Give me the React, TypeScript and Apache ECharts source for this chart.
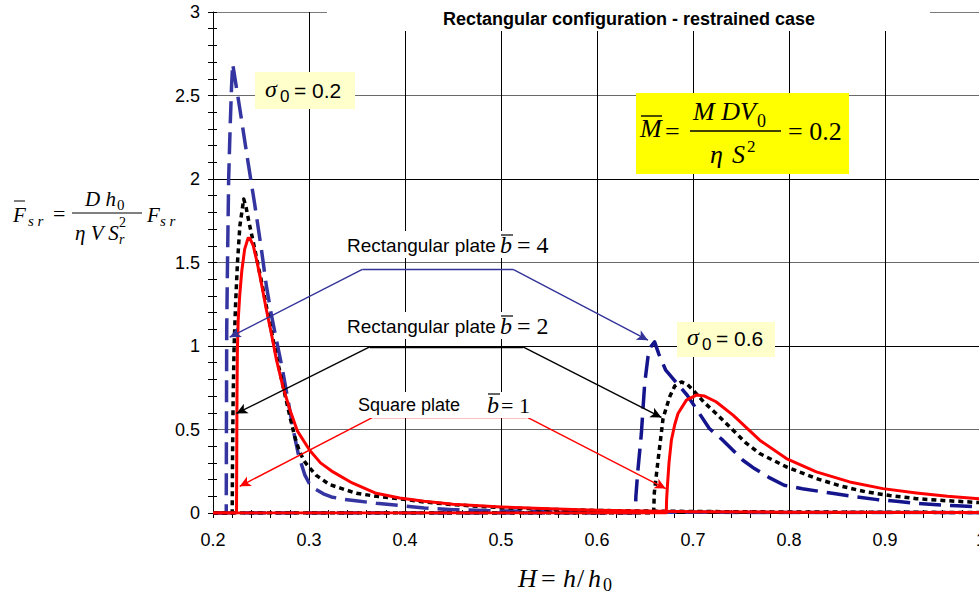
import React, { useEffect, useRef } from 'react';
import * as echarts from 'echarts';

// ---------------- data ----------------
const X_MIN = 0.2;
const X_MAX = 1.0;
const X_STEP = 0.1;
const Y_MIN = 0;
const Y_MAX = 3;
const Y_STEP = 0.5;

const TITLE = 'Rectangular configuration - restrained case';

// sigma0 = 0.2
const s02_b4: [number, number][] = [
  [0.2, 0], [0.2138, 0], [0.214, 0.5], [0.2143, 1.1], [0.215, 1.45], [0.2163, 2.0], [0.2178, 2.3],
  [0.2193, 2.55], [0.2205, 2.69], [0.2285, 2.4], [0.2365, 2.1], [0.2434, 1.85], [0.2504, 1.58],
  [0.2556, 1.36], [0.261, 1.18], [0.267, 1.01], [0.272, 0.87], [0.278, 0.68], [0.2835, 0.5],
  [0.289, 0.35], [0.2955, 0.23], [0.3, 0.18], [0.306, 0.145], [0.315, 0.115], [0.3233, 0.096],
  [0.335, 0.083], [0.351, 0.072], [0.37, 0.058], [0.3944, 0.045], [0.42, 0.03], [0.45, 0.02],
  [0.5, 0.012], [0.6, 0.006], [0.7, 0.004], [0.8, 0.003], [1.0, 0.002],
];
const s02_b2: [number, number][] = [
  [0.2, 0], [0.22, 0], [0.2203, 0.3], [0.221, 0.7], [0.222, 1.0], [0.2235, 1.25], [0.2255, 1.5],
  [0.228, 1.72], [0.232, 1.88], [0.2345, 1.83], [0.2375, 1.74], [0.2417, 1.63], [0.246, 1.51],
  [0.2504, 1.39], [0.2555, 1.24], [0.2608, 1.09], [0.266, 0.94], [0.2729, 0.76], [0.28, 0.58],
  [0.285, 0.46], [0.29, 0.37], [0.295, 0.31], [0.3007, 0.27], [0.3076, 0.225], [0.3215, 0.17],
  [0.332, 0.15], [0.3494, 0.118], [0.37, 0.1], [0.3944, 0.085], [0.42, 0.066], [0.45, 0.05],
  [0.5, 0.032], [0.55, 0.022], [0.6, 0.015], [0.7, 0.009], [0.8, 0.006], [1.0, 0.003],
];
const s02_b1: [number, number][] = [
  [0.2, 0], [0.2245, 0], [0.2247, 0.3], [0.225, 0.7], [0.2254, 0.975], [0.2262, 1.15], [0.2278, 1.3],
  [0.23, 1.45], [0.233, 1.58], [0.2365, 1.645], [0.2385, 1.645], [0.242, 1.6], [0.246, 1.5],
  [0.2504, 1.375], [0.2555, 1.22], [0.2608, 1.075], [0.266, 0.92], [0.2729, 0.755], [0.28, 0.62],
  [0.288, 0.49], [0.3007, 0.376], [0.312, 0.3], [0.325, 0.246], [0.345, 0.18], [0.37, 0.118],
  [0.3944, 0.09], [0.42, 0.07], [0.45, 0.052], [0.5, 0.036], [0.55, 0.025], [0.6, 0.017],
  [0.65, 0.012], [0.7, 0.008], [0.8, 0.005], [1.0, 0.003],
];

// sigma0 = 0.6
const s06_b4: [number, number][] = [
  [0.2, 0], [0.64, 0], [0.6405, 0.1], [0.6425, 0.25], [0.6462, 0.476], [0.6497, 0.776],
  [0.6531, 0.935], [0.6565, 1.0], [0.66, 1.025], [0.6645, 0.95], [0.6716, 0.855], [0.6827, 0.78],
  [0.694, 0.705], [0.705, 0.61], [0.717, 0.506], [0.731, 0.436], [0.752, 0.316], [0.764, 0.266],
  [0.78, 0.21], [0.795, 0.166], [0.814, 0.145], [0.845, 0.118], [0.866, 0.1], [0.892, 0.08],
  [0.912, 0.07], [0.933, 0.058], [0.954, 0.05], [0.975, 0.043], [1.0, 0.036],
];
const s06_b2: [number, number][] = [
  [0.2, 0], [0.659, 0], [0.6597, 0.12], [0.6636, 0.316], [0.6688, 0.566], [0.6757, 0.696],
  [0.681, 0.76], [0.688, 0.785], [0.694, 0.77], [0.7, 0.736], [0.712, 0.66], [0.724, 0.596],
  [0.7417, 0.496], [0.755, 0.42], [0.7695, 0.356], [0.7973, 0.276], [0.8285, 0.206], [0.855, 0.16],
  [0.8806, 0.126], [0.905, 0.105], [0.9327, 0.086], [0.96, 0.075], [1.0, 0.062],
];
const s06_b1: [number, number][] = [
  [0.2, 0], [0.6722, 0], [0.6725, 0.08], [0.6733, 0.156], [0.675, 0.3], [0.6775, 0.436],
  [0.681, 0.53], [0.6844, 0.596], [0.6931, 0.676], [0.7035, 0.706], [0.712, 0.7], [0.724, 0.666],
  [0.7417, 0.586], [0.7695, 0.436], [0.7973, 0.326], [0.8285, 0.246], [0.8632, 0.186],
  [0.8979, 0.146], [0.9327, 0.12], [0.965, 0.1], [1.0, 0.085],
];

// annotation leader lines (data coordinates): [start of flat part, end of flat part, left target, right target]
const lead_b4: [number, number][] = [[0.3556, 1.459], [0.5126, 1.459], [0.2174, 1.053], [0.6531, 1.035]];
const lead_b2: [number, number][] = [[0.3632, 0.995], [0.5229, 0.995], [0.2244, 0.596], [0.6671, 0.572]];
const lead_b1: [number, number][] = [[0.3674, 0.5755], [0.5265, 0.5755], [0.2278, 0.16], [0.6716, 0.146]];

// ---------------- helpers ----------------
const SANS = '"Liberation Sans", Arial, sans-serif';
const SERIF = '"Liberation Serif", "Times New Roman", serif';

function txt(x: number, y: number, text: string, font: string, align: string = 'left', fill: string = '#000') {
  return {
    type: 'text',
    x,
    y,
    z: 110,
    silent: true,
    style: {
      text,
      font,
      fill,
      textAlign: align,
      textVerticalAlign: 'middle',
      align,
      verticalAlign: 'middle',
    },
  };
}
function hl(x1: number, x2: number, y: number, w = 1.2, color = '#000') {
  return { type: 'line', z: 111, silent: true, shape: { x1, y1: y, x2, y2: y }, style: { stroke: color, lineWidth: w } };
}
function box(x: number, y: number, w: number, h: number, fill: string) {
  return { type: 'rect', z: 105, silent: true, shape: { x, y, width: w, height: h }, style: { fill } };
}

function leaderMarkLine(p: [number, number][], color: string) {
  const [a, b, l, r] = p;
  return {
    silent: true,
    animation: false,
    symbolSize: [8, 11],
    label: { show: false },
    emphasis: { disabled: true },
    lineStyle: { color, width: 1.4, type: 'solid' },
    data: [
      [{ coord: a, symbol: 'none' }, { coord: b, symbol: 'none' }],
      [{ coord: a, symbol: 'none' }, { coord: l, symbol: 'arrow' }],
      [{ coord: b, symbol: 'none' }, { coord: r, symbol: 'arrow' }],
    ],
  };
}

const BLUE1 = '#3535a2';
const BLUE2 = '#14148c';
const RED = '#ff0000';
const BLACK = '#000000';

export default function App() {
  const ref = useRef<HTMLDivElement>(null);

  useEffect(() => {
    document.body.style.margin = '0';
    if (!ref.current) return;
    const chart = echarts.init(ref.current, null, { renderer: 'svg' });

    const si = (sz: number) => `italic ${sz}px ${SERIF}`;
    const sr = (sz: number) => `${sz}px ${SERIF}`;
    const ss = (sz: number) => `${sz}px ${SANS}`;

    const graphic: any[] = [
      // title with white background
      box(327, 0, 603, 31, '#ffffff'),
      txt(629, 19, TITLE, `bold 18px ${SANS}`, 'center'),

      // y-axis formula
      txt(13, 215, 'F', si(21)),
      hl(14, 25, 201, 1),
      txt(28, 221, 's r', si(15)),
      txt(53, 213, '=', sr(22)),
      txt(85, 199, 'D h', si(21)),
      txt(117, 205, '0', sr(15)),
      hl(72, 142, 213, 1),
      txt(75, 233, 'η V S', si(21)),
      txt(119, 222, '2', sr(14)),
      txt(119, 239, 'r', si(14)),
      txt(147, 215, 'F', si(21)),
      txt(160, 221, 's r', si(15)),

      // M formula box
      box(636, 93, 213, 81, '#ffff00'),
      txt(640, 128, 'M', si(26)),
      hl(641, 662, 116, 1.4),
      txt(665, 131, '=', sr(26)),
      txt(693, 111, 'M DV', si(26)),
      txt(757, 121, '0', sr(18)),
      hl(690, 781, 131, 1.3),
      txt(710, 154, 'η', si(26)),
      txt(732, 154, 'S', si(26)),
      txt(747, 146, '2', sr(17)),
      txt(788, 131, '= 0.2', sr(26)),

      // sigma0 = 0.2
      box(255, 72, 100, 37, '#ffffcc'),
      txt(265, 89, 'σ', si(24)),
      txt(280, 96, '0', ss(17)),
      txt(294, 90, '= 0.2', ss(21)),

      // sigma0 = 0.6
      box(677, 322, 98, 35, '#ffffcc'),
      txt(687, 337, 'σ', si(24)),
      txt(702, 344, '0', ss(17)),
      txt(716, 338, '= 0.6', ss(21)),

      // b = 4
      box(344, 231, 208, 27, '#ffffff'),
      txt(347, 245, 'Rectangular plate', ss(19)),
      box(497, 231, 55, 27, '#ffffff'),
      txt(500, 245, 'b', si(24)),
      hl(501, 513, 235, 1.2),
      txt(517, 245, '= 4', sr(24)),

      // b = 2
      box(344, 312, 208, 27, '#ffffff'),
      txt(347, 326, 'Rectangular plate', ss(19)),
      box(497, 312, 55, 27, '#ffffff'),
      txt(500, 326, 'b', si(24)),
      hl(501, 513, 316, 1.2),
      txt(517, 326, '= 2', sr(24)),

      // b = 1
      box(355, 392, 180, 26, '#ffffff'),
      txt(358, 405, 'Square plate', ss(18)),
      txt(487, 405, 'b', si(24)),
      hl(488, 500, 394, 1.2),
      txt(501, 405, '= 1', sr(22)),

      // x-axis name
      txt(518, 578, 'H', si(26)),
      txt(541, 578, '=', sr(26)),
      txt(563, 578, 'h', si(26)),
      txt(577, 578, '/', sr(26)),
      txt(588, 578, 'h', si(26)),
      txt(603, 585, '0', sr(18)),
    ];

    const lineSeries = (name: string, data: [number, number][], color: string, width: number, type: any, z: number, markLine?: any) => ({
      name,
      type: 'line',
      data,
      showSymbol: false,
      symbol: 'none',
      smooth: false,
      z,
      silent: true,
      lineStyle: { color, width, type, cap: 'butt', join: 'round' },
      emphasis: { disabled: true },
      ...(markLine ? { markLine } : {}),
    });

    const option: any = {
      animation: false,
      backgroundColor: '#ffffff',
      grid: { left: 213, top: 12, width: 768, height: 501, containLabel: false, outerBoundsMode: 'none' },
      xAxis: [
        {
          type: 'value',
          min: X_MIN,
          max: X_MAX,
          interval: X_STEP,
          axisLine: { show: true, onZero: false, lineStyle: { color: '#000', width: 1 } },
          axisTick: { show: true, length: 5, lineStyle: { color: '#000', width: 1 } },
          minorTick: { show: true, splitNumber: 5, length: 5, lineStyle: { color: '#000', width: 1 } },
          axisLabel: {
            margin: 18,
            color: '#000',
            fontSize: 18,
            fontFamily: SANS,
            formatter: (v: number) => String(Math.round(v * 10) / 10),
          },
          splitLine: { show: true, lineStyle: { color: '#000', width: 1 } },
        },
        {
          type: 'value',
          min: X_MIN,
          max: X_MAX,
          interval: X_STEP,
          position: 'bottom',
          axisLine: { show: false },
          axisTick: { show: true, inside: true, length: 3, lineStyle: { color: '#000', width: 1 } },
          minorTick: { show: true, splitNumber: 5, length: 3, lineStyle: { color: '#000', width: 1 } },
          axisLabel: { show: false },
          splitLine: { show: false },
        },
      ],
      yAxis: [
        {
          type: 'value',
          min: Y_MIN,
          max: Y_MAX,
          interval: Y_STEP,
          axisLine: { show: true, onZero: false, lineStyle: { color: '#000', width: 1 } },
          axisTick: { show: true, length: 5, lineStyle: { color: '#000', width: 1 } },
          minorTick: { show: true, splitNumber: 5, length: 5, lineStyle: { color: '#000', width: 1 } },
          axisLabel: { margin: 13, color: '#000', fontSize: 18, fontFamily: SANS },
          splitLine: {
            show: true,
            lineStyle: { color: ['#000', '#6a6a6a', '#000', '#6a6a6a', '#000', '#6a6a6a', '#7a7a7a'], width: 1 },
          },
        },
        {
          type: 'value',
          min: Y_MIN,
          max: Y_MAX,
          interval: Y_STEP,
          position: 'left',
          axisLine: { show: false },
          axisTick: { show: true, inside: true, length: 4, lineStyle: { color: '#000', width: 1 } },
          minorTick: { show: true, splitNumber: 5, length: 4, lineStyle: { color: '#000', width: 1 } },
          axisLabel: { show: false },
          splitLine: { show: false },
        },
      ],
      series: [
        lineSeries('s02_b4', s02_b4, BLUE1, 3.5, [22, 9], 2, leaderMarkLine(lead_b4, '#33339a')),
        lineSeries('s06_b4', s06_b4, BLUE2, 3.5, [22, 9], 2),
        lineSeries('s02_b2', s02_b2, BLACK, 3.5, [5, 4], 3, leaderMarkLine(lead_b2, '#000000')),
        lineSeries('s06_b2', s06_b2, BLACK, 3.5, [5, 4], 3),
        lineSeries('s02_b1', s02_b1, RED, 3, 'solid', 4, leaderMarkLine(lead_b1, '#ff0000')),
        lineSeries('s06_b1', s06_b1, RED, 3, 'solid', 4),
      ],
      graphic,
    };

    chart.setOption(option);
    return () => {
      chart.dispose();
    };
  }, []);

  return <div ref={ref} style={{ width: 979, height: 596 }} />;
}
